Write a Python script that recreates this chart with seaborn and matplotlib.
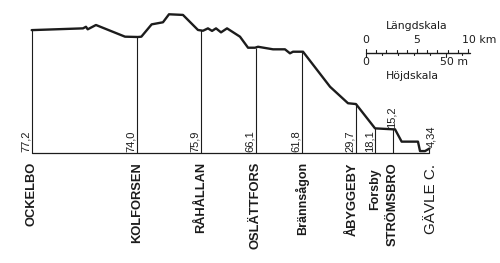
import numpy as np
import pandas as pd
import matplotlib
matplotlib.use("Agg")
import matplotlib.pyplot as plt
import seaborn as sns

# ---- data -------------------------------------------------------------
stations = ["OCKELBO", "KOLFORSEN", "RÅHÅLLAN", "OSLÄTTFORS", "Brännsågon",
            "ÅBYGGEBY", "Forsby", "STRÖMSBRO", "GÄVLE C."]
station_km = [0.0, 10.3, 16.6, 21.95, 26.5, 31.8, 33.7, 35.42, 39.0]
station_heights = ["77,2", "74,0", "75,9", "66,1", "61,8", "29,7", "18,1", "15,2", "4,34"]

profile_km = [0.0, 5.03, 5.32, 5.49, 6.30, 9.15, 10.42, 10.75, 11.76, 12.87,
              13.46, 14.83, 16.30, 16.79, 17.28, 17.68, 18.07, 18.56, 19.15,
              20.42, 21.21, 21.89, 22.19, 23.66, 24.83, 25.32, 25.62, 26.60,
              29.25, 31.01, 31.79, 33.66, 35.42, 35.62, 36.27, 37.87, 38.07,
              38.56, 39.0]
profile_m = [76.8, 77.9, 78.9, 77.3, 80.0, 72.7, 72.5, 72.7, 80.4, 81.7,
             86.7, 86.3, 76.9, 76.4, 77.9, 76.3, 77.9, 75.4, 77.9,
             72.7, 65.8, 65.8, 66.4, 64.8, 64.8, 62.3, 63.3, 63.3,
             41.4, 31.1, 30.6, 15.4, 14.8, 14.8, 7.1, 7.1, 1.2,
             1.2, 2.8]

length_scale_km = [0, 5, 10]
height_scale_m = [0, 50]

# ---- layout -----------------------------------------------------------
PX_KM = 10.2
PX_M = 1.6
X0_PX, BASE_PX = 31.7, 153.0
W, H = 500, 263
INK = "#1c1c1c"

sns.set_style("white")
plt.rcParams["font.family"] = ["Liberation Sans", "DejaVu Sans"]

fig = plt.figure(figsize=(W / 100, H / 100), dpi=100)
ax = fig.add_axes([0, 0, 1, 1])
ax.set_xlim(-X0_PX / PX_KM, (W - X0_PX) / PX_KM)
ax.set_ylim((BASE_PX - H) / PX_M, BASE_PX / PX_M)
ax.axis("off")

df = pd.DataFrame({"km": profile_km, "m": profile_m})
sns.lineplot(data=df, x="km", y="m", ax=ax, color=INK, lw=1.7,
             estimator=None, sort=False)

# baseline and station verticals
ax.plot([station_km[0], station_km[-1]], [0, 0], color=INK, lw=0.9)
tops = np.interp(station_km, profile_km, profile_m)
ax.vlines(station_km, 0, tops, color=INK, lw=0.8)

# elevation labels
for i, (k, lab) in enumerate(zip(station_km, station_heights)):
    if lab == "15,2":
        ax.text(k - 0.12, tops[i] + 0.6, lab, rotation=90, ha="center",
                va="bottom", fontsize=8, color=INK)
    elif lab == "4,34":
        ax.text(k + 0.15, tops[i] + 0.8, lab, rotation=90, ha="center",
                va="bottom", fontsize=8, color=INK)
    else:
        ax.text(k - 0.08, 0.7, lab, rotation=90, ha="right", va="bottom",
                fontsize=8, color=INK)

# station names
name_y = (BASE_PX - 162) / PX_M
for k, name in zip(station_km, stations):
    kw = dict(rotation=90, ha="center", va="top", color=INK)
    if name == "GÄVLE C.":
        ax.text(k + 0.1, (BASE_PX - 164) / PX_M, name, fontsize=11, **kw)
    elif name == "Brännsågon":
        ax.text(k, name_y, name, fontsize=9, fontweight="bold", **kw)
    elif name == "Forsby":
        ax.text(k, (BASE_PX - 168) / PX_M, name, fontsize=9, fontweight="bold", **kw)
    elif name == "ÅBYGGEBY":
        ax.text(k - 0.3, name_y, name, fontsize=9.3, fontweight="bold", **kw)
    else:
        ax.text(k, name_y, name, fontsize=9.3, fontweight="bold", **kw)

# scale bars
sx0 = (366 - X0_PX) / PX_KM
sy = (BASE_PX - 52.7) / PX_M
ax.plot([sx0, sx0 + 10.2 * 1.0], [sy, sy], color=INK, lw=1.0)
for i in range(11):
    ln = 2.4 if i in (0, 5, 10) else 1.6
    ax.plot([sx0 + i, sx0 + i], [sy, sy + ln], color=INK, lw=0.8)
for j in range(0, 70, 10):
    xk = sx0 + j * PX_M / PX_KM
    ln = 2.4 if j in (0, 50) else 1.6
    ax.plot([xk, xk], [sy, sy - ln], color=INK, lw=0.8)

sfont = dict(fontsize=7.8, color=INK, family="DejaVu Sans")
ax.text(sx0 + 5.0, (BASE_PX - 25.5) / PX_M, "Längdskala", ha="center", va="center", **sfont)
ax.text(sx0 + 4.5, (BASE_PX - 76) / PX_M, "Höjdskala", ha="center", va="center", **sfont)
for v in length_scale_km:
    lab = f"{v} km" if v == 10 else f"{v}"
    ha = "left" if v == 10 else "center"
    xx = sx0 + v - (0.6 if v == 10 else 0)
    ax.text(xx, (BASE_PX - 39.5) / PX_M, lab, ha=ha, va="center", **sfont)
for v in height_scale_m:
    lab = f"{v} m" if v == 50 else f"{v}"
    ha = "left" if v == 50 else "center"
    xx = sx0 + v * PX_M / PX_KM - (0.6 if v == 50 else 0)
    ax.text(xx, (BASE_PX - 62) / PX_M, lab, ha=ha, va="center", **sfont)

fig.savefig("out.png", dpi=100, facecolor="white")
